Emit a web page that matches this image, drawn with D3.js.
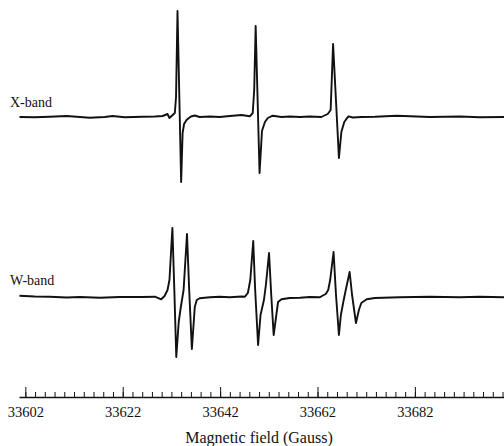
<!DOCTYPE html>
<html lang="en">
<head>
<meta charset="utf-8">
<title>EPR spectra</title>
<script src="https://d3js.org/d3.v7.min.js"></script>
<style>
  body { margin: 0; background: #fff; }
  svg { display: block; }
  .lbl { font-family: "Liberation Serif", "Times New Roman", serif; fill: #111; }
  .axis text { font-family: "Liberation Serif", "Times New Roman", serif; font-size: 14.5px; fill: #111; }
  .axis path, .axis line { stroke: #111; }
</style>
</head>
<body>
<script>
// field (Gauss) and first-derivative intensity (arbitrary units)
var xbandField = [33600.8, 33603.9, 33607.0, 33610.5, 33613.2, 33615.2, 33618.3, 33619.9, 33622.4, 33626.1,
  33628.6, 33630.2, 33631.2, 33631.6, 33632.7, 33632.95, 33633.25, 33634.0, 33634.3, 33634.6,
  33635.1, 33635.6, 33636.0, 33636.8, 33637.8, 33639.9, 33641.9, 33644.0, 33646.4, 33648.1,
  33648.7, 33649.0, 33649.3, 33650.1, 33650.6, 33651.2, 33651.8, 33652.8, 33654.6, 33656.3, 33658.4,
  33660.4, 33662.8, 33664.1, 33664.7, 33665.2, 33666.4, 33666.9, 33667.5, 33668.0, 33668.4, 33669.25,
  33671.0, 33673.8, 33678.3, 33685.1, 33691.2, 33695.3, 33700.3];
var xbandSignal = [0, -0.3, 0.3, 1, 0, -0.7, 0, 1, -0.3, 0.3,
  0.5, 1, 3, -1, 4, 20, 106, -65, -16, -7,
  -3, -1, 0.5, 1.5, 0, 0.5, 0, 1, 2, 0.7,
  4, 27, 91, -56, -14, -5, -1, 1.3, 0, 0.5, 0,
  0.5, 0, 3, 7, 73, -41, -15, -5, -1.5, 0.7, -0.5,
  0, 0.3, 1.3, 0, 0.5, -0.3, 0];

var wbandField = [33600.8, 33603.9, 33607.0, 33610.5, 33613.2, 33617.3, 33621.4, 33626.1, 33628.6, 33629.9,
  33630.6, 33631.2, 33631.6, 33632.2, 33632.6, 33633.0, 33633.5, 33633.9, 33634.5, 33635.2,
  33635.65, 33636.2, 33636.8, 33637.2, 33637.8, 33639.9, 33641.9, 33644.0, 33646.4, 33647.1,
  33647.7, 33648.2, 33648.8, 33649.2, 33649.8, 33650.3, 33651.0, 33651.4, 33652.05, 33652.5,
  33653.0, 33653.9, 33654.6, 33656.3, 33658.4, 33660.4, 33662.5, 33663.1, 33663.7, 33664.2,
  33664.6, 33665.3, 33665.8, 33666.4, 33666.8, 33667.3, 33667.8, 33668.6, 33669.1, 33669.9,
  33670.5, 33671.0, 33672.1, 33673.8, 33678.9, 33685.1, 33691.2, 33695.3, 33700.3];
var wbandSignal = [1.3, 0.5, 0.3, -0.5, 0, -0.7, 0, 0, 0.3, -2.3,
  1, 7, 17, 69, 7, -60, -25, -11, 7, 63,
  7, -52, -10, -3, -1.3, -0.3, 0.3, -0.3, 0.5, 0.3,
  4, 17, 56, 7, -48, -18, -3, 12, 44, 2,
  -38, -5, -2.3, -1, -0.7, 0, -0.3, 1.5, 3, 7,
  17, 45, 2, -38, -18, -5, 7, 25, 2, -26,
  -13, -6, -2.3, -1, -0.3, 0.3, -0.3, 0.3, -0.3];

var majorTicks = [33602, 33622, 33642, 33662, 33682];
var minorTicks = d3.range(33602, 33701, 2);
var traceNames = ["X-band", "W-band"];

var width = 504, height = 446;

var svg = d3.select("body").append("svg")
    .attr("width", width)
    .attr("height", height);

var x = d3.scaleLinear()
    .domain([33600.7, 33700.3])
    .range([19, 504]);

// each trace gets its own vertical scale (baseline at 0)
var yX = d3.scaleLinear().domain([-100, 100]).range([217, 17]);
var yW = d3.scaleLinear().domain([-100, 100]).range([397, 197]);

var line = d3.line()
    .x(function(d) { return x(d[0]); });

svg.append("path")
    .datum(d3.zip(xbandField, xbandSignal))
    .attr("fill", "none")
    .attr("stroke", "#111")
    .attr("stroke-width", 1.9)
    .attr("stroke-linejoin", "round")
    .attr("d", line.y(function(d) { return yX(d[1]); }));

svg.append("path")
    .datum(d3.zip(wbandField, wbandSignal))
    .attr("fill", "none")
    .attr("stroke", "#111")
    .attr("stroke-width", 1.9)
    .attr("stroke-linejoin", "round")
    .attr("d", line.y(function(d) { return yW(d[1]); }));

svg.append("text")
    .attr("class", "lbl")
    .attr("x", 10)
    .attr("y", 106.5)
    .attr("font-size", "14px")
    .text(traceNames[0]);

svg.append("text")
    .attr("class", "lbl")
    .attr("x", 10)
    .attr("y", 284.5)
    .attr("font-size", "14px")
    .text(traceNames[1]);

// minor ticks (every 2 G), ticks pointing up
svg.append("g")
    .attr("class", "axis")
    .attr("transform", "translate(0,397)")
    .call(d3.axisBottom(x).tickValues(minorTicks).tickSizeInner(-5).tickSizeOuter(0).tickFormat(""))
    .select(".domain").attr("stroke-width", 1.4);

// major ticks with labels
svg.append("g")
    .attr("class", "axis")
    .attr("transform", "translate(0,397)")
    .call(d3.axisBottom(x).tickValues(majorTicks).tickSizeInner(-10).tickSizeOuter(0).tickPadding(10)
        .tickFormat(d3.format("d")))
    .call(function(g) { g.select(".domain").remove(); });

svg.append("text")
    .attr("class", "lbl")
    .attr("x", 259)
    .attr("y", 443)
    .attr("text-anchor", "middle")
    .attr("font-size", "16px")
    .text("Magnetic field (Gauss)");
</script>
</body>
</html>
